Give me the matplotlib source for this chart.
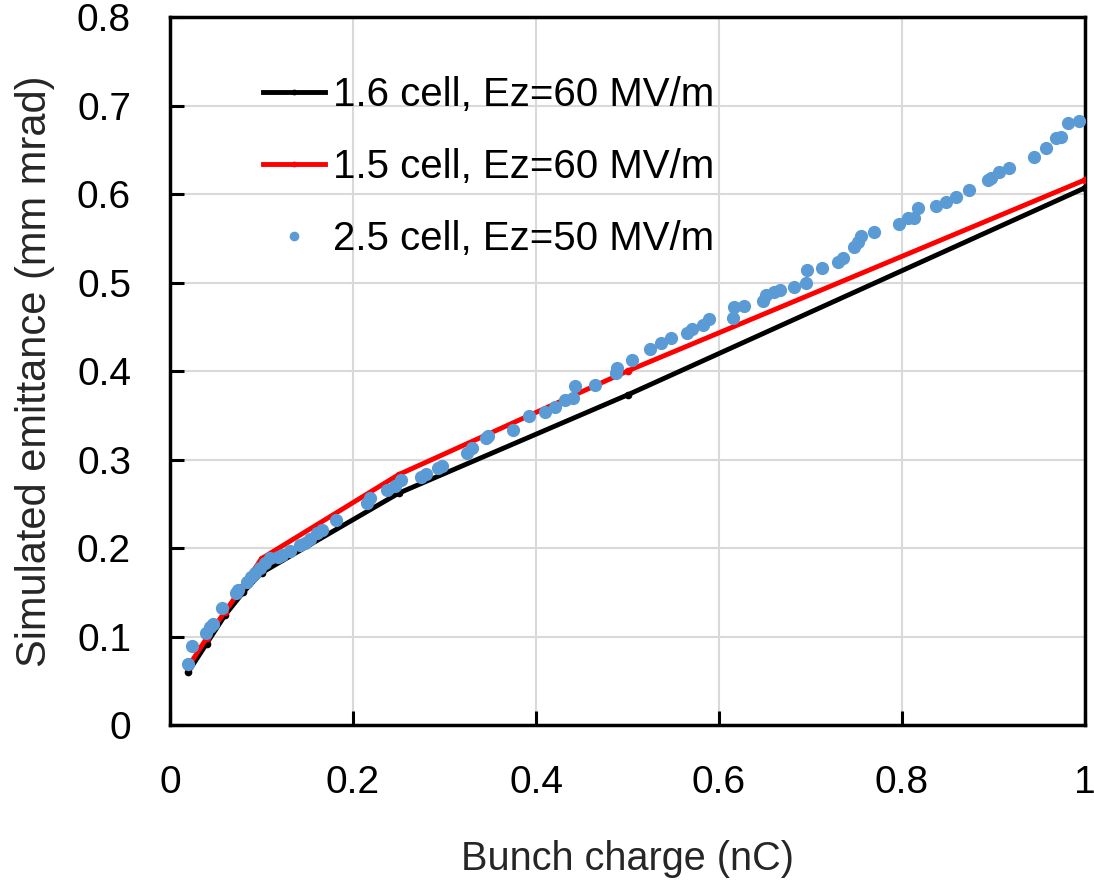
import matplotlib
matplotlib.use("Agg")
import matplotlib.pyplot as plt

# 1.6 cell, Ez=60 MV/m
q_16 = [0.02, 0.04, 0.06, 0.08, 0.10, 0.25, 0.50, 1.00]
e_16 = [0.060, 0.092, 0.124, 0.150, 0.172, 0.262, 0.373, 0.607]

# 1.5 cell, Ez=60 MV/m
q_15 = [0.02, 0.04, 0.06, 0.08, 0.10, 0.25, 0.50, 1.00]
e_15 = [0.066, 0.098, 0.128, 0.157, 0.188, 0.283, 0.400, 0.616]

# 2.5 cell, Ez=50 MV/m
q_25 = [0.020, 0.024, 0.039, 0.044, 0.047, 0.057, 0.072, 0.074, 0.084, 0.089,
        0.093, 0.098, 0.104, 0.109, 0.118, 0.122, 0.131, 0.142, 0.148, 0.153,
        0.161, 0.166, 0.181, 0.215, 0.219, 0.237, 0.246, 0.252, 0.274, 0.280,
        0.293, 0.297, 0.325, 0.330, 0.345, 0.348, 0.375, 0.392, 0.410, 0.421,
        0.432, 0.440, 0.443, 0.465, 0.487, 0.489, 0.505, 0.525, 0.537, 0.547,
        0.565, 0.571, 0.582, 0.589, 0.615, 0.616, 0.627, 0.648, 0.651, 0.660,
        0.667, 0.682, 0.695, 0.696, 0.713, 0.730, 0.735, 0.747, 0.752, 0.755,
        0.769, 0.797, 0.807, 0.813, 0.817, 0.837, 0.848, 0.859, 0.873, 0.894,
        0.897, 0.906, 0.917, 0.944, 0.957, 0.968, 0.974, 0.981, 0.993]
e_25 = [0.069, 0.089, 0.104, 0.111, 0.114, 0.132, 0.149, 0.153, 0.162, 0.167,
        0.172, 0.177, 0.183, 0.189, 0.190, 0.192, 0.197, 0.203, 0.206, 0.210,
        0.217, 0.220, 0.232, 0.251, 0.256, 0.266, 0.270, 0.277, 0.280, 0.284,
        0.290, 0.293, 0.307, 0.313, 0.324, 0.327, 0.333, 0.349, 0.354, 0.359,
        0.367, 0.369, 0.383, 0.384, 0.398, 0.403, 0.412, 0.425, 0.432, 0.437,
        0.443, 0.447, 0.452, 0.459, 0.460, 0.472, 0.473, 0.479, 0.486, 0.489,
        0.492, 0.495, 0.499, 0.514, 0.516, 0.523, 0.528, 0.540, 0.546, 0.552,
        0.557, 0.566, 0.573, 0.573, 0.584, 0.587, 0.591, 0.597, 0.605, 0.616,
        0.618, 0.625, 0.629, 0.642, 0.652, 0.663, 0.664, 0.680, 0.682]

plt.rcParams["font.family"] = ["Liberation Sans", "DejaVu Sans"]

fig = plt.figure(figsize=(10.94, 8.86), dpi=100)
ax = fig.add_axes([0.1554, 0.1817, 0.8364, 0.7991])

ax.plot(q_16, e_16, color="black", lw=3.5, marker="o", ms=4.5,
        label="1.6 cell, Ez=60 MV/m", zorder=3)
ax.plot(q_15, e_15, color="#ff0000", lw=3.5, marker="o", ms=4.5,
        label="1.5 cell, Ez=60 MV/m", zorder=4)
ax.plot(q_25, e_25, ls="none", marker="o", ms=8.5, color="#5b9bd5",
        label="2.5 cell, Ez=50 MV/m", zorder=5)

ax.set_xlim(0, 1)
ax.set_ylim(0, 0.8)
ax.set_xticks([0, 0.2, 0.4, 0.6, 0.8, 1.0])
ax.set_xticklabels(["0", "0.2", "0.4", "0.6", "0.8", "1"])
ax.set_yticks([0, 0.1, 0.2, 0.3, 0.4, 0.5, 0.6, 0.7, 0.8])
ax.set_yticklabels(["0", "0.1", "0.2", "0.3", "0.4", "0.5", "0.6", "0.7", "0.8"])

ax.grid(True, color="#d9d9d9", lw=1.5)
ax.set_axisbelow(True)
for s in ax.spines.values():
    s.set_linewidth(2.5)
    s.set_color("black")

ax.tick_params(direction="in", length=10, width=2.2, labelsize=28,
               colors="black")
ax.tick_params(axis="y", pad=28)
ax.tick_params(axis="x", pad=29)

ax.set_xlabel("Bunch charge (nC)", fontsize=28.5, color="#262626", labelpad=28)
ax.set_ylabel("Simulated emittance (mm mrad)", fontsize=30, color="#262626",
              labelpad=16)

ax.legend(loc="upper left", bbox_to_anchor=(0.062, 0.968), frameon=False,
          fontsize=29, handlelength=1.54, handletextpad=0.2, labelspacing=0.85,
          markerscale=0.7)

fig.savefig("out.png", dpi=100)
